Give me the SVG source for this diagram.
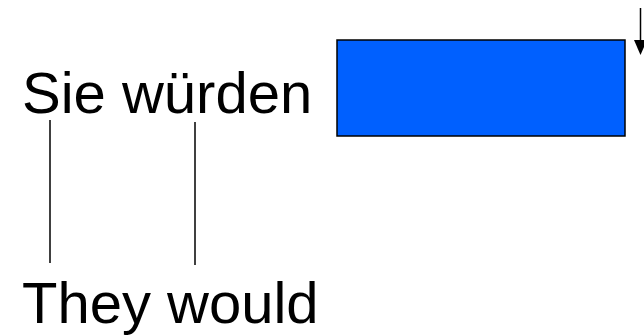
<svg xmlns="http://www.w3.org/2000/svg" width="644" height="335" viewBox="0 0 644 335">
  <style>
    .label { font-family: "Liberation Sans", Arial, sans-serif; font-size: 58px; fill: #000; }
    .link { stroke: #000; stroke-width: 1.5; fill: none; }
  </style>
  <rect width="644" height="335" fill="#fff"/>
  <g id="german">
    <text class="label" x="22" y="113">Sie würden</text>
  </g>
  <g id="english">
    <text class="label" x="22" y="323">They would</text>
  </g>
  <g id="blank">
    <rect x="337" y="40" width="288" height="96" fill="#0060ff" stroke="#000" stroke-width="1.5"/>
  </g>
  <g id="connectors">
    <line class="link" x1="50" y1="120" x2="50" y2="263"/>
    <line class="link" x1="195" y1="122" x2="195" y2="265"/>
    <path d="M640.5,8 V44" stroke="#000" stroke-width="1.5"/>
    <path d="M634,40 L647,40 L640.5,55 Z" fill="#000"/>
  </g>
</svg>
